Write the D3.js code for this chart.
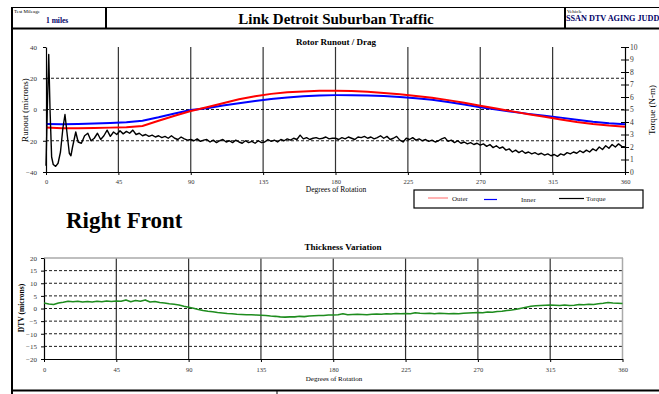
<!DOCTYPE html>
<html><head><meta charset="utf-8">
<script src="https://cdn.jsdelivr.net/npm/d3@7"></script>
<style>body{margin:0;background:#fff}svg{display:block}text{font-family:"Liberation Serif","Times New Roman",serif}</style>
</head><body><svg id="c" width="659" height="394"></svg>
<script>
// ---------- DATA ----------
const xTicks = [0, 45, 90, 135, 180, 225, 270, 315, 360];
const runoutTicks = [-40, -20, 0, 20, 40];
const torqueTicks = [0,1,2,3,4,5,6,7,8,9,10];
const dtvTicks = [-20,-15,-10,-5,0,5,10,15,20];

const runoutDeg = [0,10,20,30,40,50,60,70,80,90,100,110,120,130,140,150,160,170,180,190,200,210,220,230,240,250,260,270,280,290,300,310,320,330,340,350,360];
const outer = [-11.5,-12,-12,-11.8,-11.6,-11.3,-10.5,-7.2,-4,-1,1.5,4,6.5,8.5,10,11,11.5,12,12,11.8,11.3,10.6,9.8,8.7,7.5,6,4.3,2.4,0.6,-1.2,-3,-4.7,-6.4,-8,-9.3,-10.3,-11];
const inner = [-9.3,-9.5,-9.3,-9,-8.7,-8.2,-7.2,-5,-2.5,-0.3,0.8,2.5,4,5.5,6.7,7.7,8.5,9,9.2,9.2,9,8.6,8,7.2,6.2,4.8,3.2,1.5,0,-1.5,-2.8,-4,-5.2,-6.5,-7.8,-8.8,-9.5];

const torqueEarlyDeg = [0,0.8,1.7,2.5,3.5,4.5,6,7.5,9,10.5,11.8,13,14.5,15.5,16.5,18.5];
const torqueEarly = [0.5,5.0,9.4,5.0,1.2,0.6,0.45,0.7,1.6,3.5,4.6,3.2,1.5,1.3,2.0,3.2];
const torqueMain = [2.4,2.3,2.9,3.1,2.5,2.7,3.1,2.6,2.9,3.35,2.85,3.2,3.0,3.3,3.05,3.25,3.1,3.35,3.0,3.1,
2.9,3.0,2.85,2.95,2.8,2.9,2.75,2.85,2.7,2.9,2.7,2.6,2.8,2.65,2.55,2.6,2.5,2.65,2.45,2.55,
2.6,2.4,2.55,2.35,2.5,2.6,2.4,2.5,2.35,2.55,2.4,2.3,2.5,2.35,2.45,2.3,2.5,2.35,2.4,2.6,
2.45,2.55,2.4,2.6,2.5,2.65,2.55,2.7,2.6,2.95,2.65,2.75,2.6,2.7,2.75,2.65,2.7,2.8,2.65,2.7,
2.7,2.6,2.75,2.65,2.8,2.7,2.6,2.8,2.75,2.85,2.7,2.8,2.65,2.75,2.9,2.7,2.85,2.6,2.7,2.85,
2.55,2.4,2.7,2.6,2.75,2.55,2.65,2.5,2.6,2.45,2.55,2.4,2.5,2.65,2.75,2.45,2.55,2.35,2.5,2.3,
2.4,2.25,2.35,2.2,2.3,2.15,2.25,2.05,2.2,1.95,2.1,1.9,2.0,1.75,1.85,1.6,1.75,1.55,1.7,1.5,
1.6,1.45,1.55,1.4,1.5,1.35,1.45,1.3,1.4,1.25,1.45,1.35,1.55,1.45,1.6,1.5,1.7,1.55,1.75,1.6,
1.85,1.7,2.0,1.8,2.1,1.9,2.2,2.0,2.25,2.05,2.0];
const torqueMainDeg = d3.range(20, 361, 2);

const dtv = [2.2,1.8,1.6,2.2,2.5,2.9,2.7,2.9,2.6,2.8,2.6,2.9,2.7,3.0,2.8,3.0,2.9,3.4,2.7,3.2,
2.9,3.4,2.6,2.8,2.4,2.2,1.9,1.7,1.4,0.9,0.5,0.1,-0.4,-0.8,-1.1,-1.3,-1.6,-1.8,-2.0,-2.1,
-2.3,-2.4,-2.5,-2.5,-2.6,-2.7,-2.8,-3.0,-3.1,-3.3,-3.4,-3.3,-3.3,-3.1,-3.2,-3.0,-2.9,-2.8,-2.8,-2.6,
-2.6,-2.5,-2.1,-2.5,-2.4,-2.3,-2.4,-2.5,-2.3,-2.2,-2.3,-2.1,-2.2,-2.0,-2.1,-2.0,-2.1,-1.7,-1.9,-2.0,
-1.9,-2.1,-1.9,-2.0,-2.1,-2.0,-2.1,-1.9,-1.8,-1.7,-1.6,-1.7,-1.4,-1.5,-1.2,-1.1,-0.8,-0.6,-0.3,0.1,
0.5,0.9,1.1,1.2,1.3,1.4,1.3,1.2,1.4,1.2,1.3,1.6,1.5,1.7,1.6,1.9,2.1,2.4,2.2,2.1,2.0];
const dtvDeg = d3.range(0, 361, 3);

// ---------- DRAW ----------
const svg = d3.select("#c");
const navy = "#000066";

// frame & header
svg.append("line").attr("x1",12).attr("x2",659).attr("y1",7.5).attr("y2",7.5).attr("stroke","#000").attr("stroke-width",1.2);
svg.append("line").attr("x1",12).attr("x2",659).attr("y1",28.5).attr("y2",28.5).attr("stroke","#000").attr("stroke-width",2);
svg.append("line").attr("x1",12).attr("x2",12).attr("y1",7).attr("y2",394).attr("stroke","#000").attr("stroke-width",2);
svg.append("line").attr("x1",106).attr("x2",106).attr("y1",7).attr("y2",29).attr("stroke","#000").attr("stroke-width",2);
svg.append("line").attr("x1",565).attr("x2",565).attr("y1",7).attr("y2",29).attr("stroke","#000").attr("stroke-width",2);
svg.append("line").attr("x1",12).attr("x2",659).attr("y1",390.5).attr("y2",390.5).attr("stroke","#000").attr("stroke-width",2);
svg.append("line").attr("x1",277).attr("x2",277).attr("y1",390).attr("y2",394).attr("stroke","#000").attr("stroke-width",1);

svg.append("text").attr("x",14).attr("y",12.5).attr("font-size",5).text("Test Mileage");
svg.append("text").attr("x",46).attr("y",23).attr("font-size",7.5).attr("font-weight","bold").attr("fill",navy).text("1 miles");
svg.append("text").attr("x",336).attr("y",24).attr("text-anchor","middle").attr("font-size",15).attr("font-weight","bold").text("Link Detroit Suburban Traffic");
svg.append("text").attr("x",567).attr("y",12.5).attr("font-size",5).text("Vehicle");
svg.append("text").attr("x",566).attr("y",21).attr("font-size",8.2).attr("font-weight","bold").attr("fill",navy).text("SSAN DTV AGING JUDD");

// ---------- TOP CHART ----------
const x1 = d3.scaleLinear().domain([0,360]).range([46,625]);
const y1 = d3.scaleLinear().domain([-40,40]).range([172,47]);
const yT = d3.scaleLinear().domain([0,10]).range([172,47]);

const g1 = svg.append("g");
g1.selectAll(".vg").data(xTicks.slice(1,-1)).join("line")
  .attr("x1",d=>x1(d)).attr("x2",d=>x1(d)).attr("y1",47).attr("y2",172)
  .attr("stroke","#333").attr("stroke-width",1.2);
g1.selectAll(".hg").data([-20,0,20]).join("line")
  .attr("x1",46).attr("x2",625).attr("y1",d=>y1(d)).attr("y2",d=>y1(d))
  .attr("stroke","#000").attr("stroke-width",0.9).attr("stroke-dasharray","3,2");

const fmtAxis = (g) => { g.select(".domain").attr("stroke","#000").attr("stroke-width",1.2); g.selectAll("text").attr("font-family","Liberation Serif").attr("fill","#333"); };

svg.append("g").attr("transform","translate(46,0)")
  .call(d3.axisLeft(y1).tickValues(runoutTicks).tickSize(3).tickSizeOuter(0))
  .call(fmtAxis).call(g=>g.selectAll("text").attr("font-size",7).attr("dx",-3));
svg.append("g").attr("transform","translate(0,172)")
  .call(d3.axisBottom(x1).tickValues(xTicks).tickSize(3).tickSizeOuter(0))
  .call(fmtAxis).call(g=>g.selectAll("text").attr("font-size",6.5).attr("dy",6));
svg.append("g").attr("transform","translate(625,0)")
  .call(d3.axisRight(yT).tickValues(torqueTicks).tickSize(4).tickSizeOuter(0))
  .call(fmtAxis).call(g=>{g.selectAll(".tick line").attr("x1",-4);g.selectAll("text").attr("font-size",7.5).attr("x",5);});

const lineR = d3.line().x((d,i)=>x1(runoutDeg[i])).y(d=>y1(d));
svg.append("path").datum(inner).attr("d",lineR).attr("fill","none").attr("stroke","#0000ff").attr("stroke-width",2);
svg.append("path").datum(outer).attr("d",lineR).attr("fill","none").attr("stroke","#ff0000").attr("stroke-width",2);

const tDeg = torqueEarlyDeg.concat(torqueMainDeg);
const tVal = torqueEarly.concat(torqueMain);
const lineT = d3.line().x((d,i)=>x1(tDeg[i])).y(d=>yT(d));
svg.append("path").datum(tVal).attr("d",lineT).attr("fill","none").attr("stroke","#000").attr("stroke-width",1.4).attr("stroke-linejoin","round");

svg.append("text").attr("x",336).attr("y",45).attr("text-anchor","middle").attr("font-size",9).attr("font-weight","bold").text("Rotor Runout / Drag");
svg.append("text").attr("x",336).attr("y",192).attr("text-anchor","middle").attr("font-size",7.5).text("Degrees of Rotation");
svg.append("text").attr("transform","translate(28,110) rotate(-90)").attr("text-anchor","middle").attr("font-size",9).text("Runout (microns)");
svg.append("text").attr("transform","translate(655,110) rotate(-90)").attr("text-anchor","middle").attr("font-size",9).text("Torque (N-m)");

// legend
const lg = svg.append("g");
lg.append("rect").attr("x",414).attr("y",190).attr("width",229).attr("height",18).attr("fill","#fff").attr("stroke","#000").attr("stroke-width",1.2);
const legendItems = [
  {name:"Outer", color:"#ff8080", x1:428, x2:448, ly:198, tx:452, ty:201},
  {name:"Inner", color:"#0000ff", x1:484, x2:497, ly:199.5, tx:521, ty:202},
  {name:"Torque", color:"#000", x1:559, x2:584, ly:198.5, tx:586, ty:201}
];
legendItems.forEach(it=>{
  lg.append("line").attr("x1",it.x1).attr("x2",it.x2).attr("y1",it.ly).attr("y2",it.ly).attr("stroke",it.color).attr("stroke-width",1.2);
  lg.append("text").attr("x",it.tx).attr("y",it.ty).attr("font-size",7).attr("fill","#222").text(it.name);
});

svg.append("text").attr("x",66).attr("y",228).attr("font-size",23).attr("font-weight","bold").text("Right Front");

// ---------- BOTTOM CHART ----------
const x2 = d3.scaleLinear().domain([0,360]).range([44,622.5]);
const y2 = d3.scaleLinear().domain([-20,20]).range([359,258]);

svg.selectAll(".vg2").data(xTicks.slice(1,-1)).join("line")
  .attr("x1",d=>x2(d)).attr("x2",d=>x2(d)).attr("y1",258).attr("y2",359)
  .attr("stroke","#333").attr("stroke-width",1.2);
svg.selectAll(".hg2").data([-15,-10,-5,0,5,10,15]).join("line")
  .attr("x1",44).attr("x2",622.5).attr("y1",d=>y2(d)).attr("y2",d=>y2(d))
  .attr("stroke","#000").attr("stroke-width",0.9).attr("stroke-dasharray","3,2");
svg.append("line").attr("x1",44).attr("x2",623).attr("y1",258).attr("y2",258).attr("stroke","#aaa").attr("stroke-width",1.5);
svg.append("line").attr("x1",622.5).attr("x2",622.5).attr("y1",258).attr("y2",359).attr("stroke","#aaa").attr("stroke-width",1.5);

svg.append("g").attr("transform","translate(44,0)")
  .call(d3.axisLeft(y2).tickValues(dtvTicks).tickSize(3).tickSizeOuter(0))
  .call(fmtAxis).call(g=>g.selectAll("text").attr("font-size",7).attr("dx",-1));
svg.append("g").attr("transform","translate(0,359)")
  .call(d3.axisBottom(x2).tickValues(xTicks).tickSize(3).tickSizeOuter(0))
  .call(fmtAxis).call(g=>g.selectAll("text").attr("font-size",6.5).attr("dy",7));

const lineD = d3.line().x((d,i)=>x2(dtvDeg[i])).y(d=>y2(d));
svg.append("path").datum(dtv).attr("d",lineD).attr("fill","none").attr("stroke","#1e8c1e").attr("stroke-width",1.6).attr("stroke-linejoin","round");

svg.append("text").attr("x",343).attr("y",250).attr("text-anchor","middle").attr("font-size",9).attr("font-weight","bold").text("Thickness Variation");
svg.append("text").attr("x",334).attr("y",381).attr("text-anchor","middle").attr("font-size",7).text("Degrees of Rotation");
svg.append("text").attr("transform","translate(24,308) rotate(-90)").attr("text-anchor","middle").attr("font-size",7.5).attr("font-weight","bold").text("DTV (microns)");
</script></body></html>
